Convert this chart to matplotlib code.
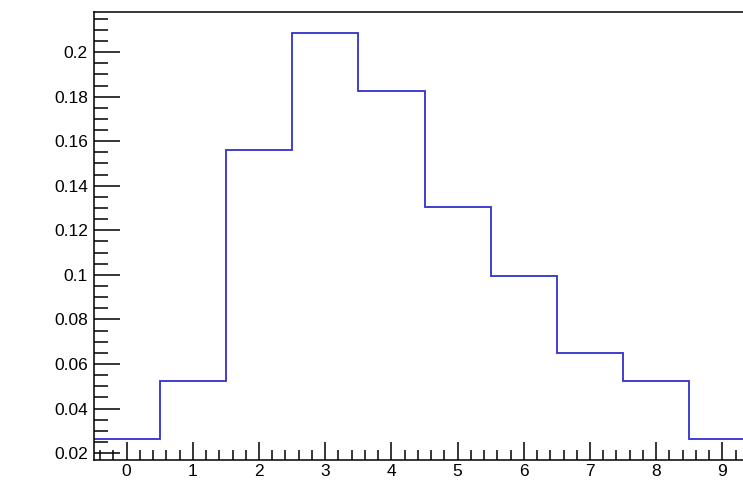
import numpy as np
import matplotlib
matplotlib.use("Agg")
import matplotlib.pyplot as plt
from matplotlib.ticker import MultipleLocator, FormatStrFormatter

# bin contents, bins centred on the integers 0..9
bin_centres = [0, 1, 2, 3, 4, 5, 6, 7, 8, 9]
bin_values = [0.0263, 0.0523, 0.1561, 0.2085, 0.1825, 0.1304, 0.0994, 0.0649, 0.0523, 0.0263]

plt.rcParams['font.family'] = ['Liberation Sans', 'DejaVu Sans']

fig = plt.figure(figsize=(7.43, 4.8), dpi=100)
# axes runs a bit past the right edge, like the cropped reference
ax = fig.add_axes([93.5 / 743, 20 / 480, 662 / 743, 448 / 480])

edges = np.arange(len(bin_centres) + 1) - 0.5
ax.stairs(bin_values, edges, color='#3030cc', linewidth=1.3, baseline=None)

ax.set_xlim(-0.5, 9.5)
ax.set_ylim(0.0169, 0.218)

ax.xaxis.set_major_locator(MultipleLocator(1))
ax.xaxis.set_minor_locator(MultipleLocator(0.2))
ax.yaxis.set_major_locator(MultipleLocator(0.02))
ax.yaxis.set_minor_locator(MultipleLocator(0.005))
ax.yaxis.set_major_formatter(FormatStrFormatter('%g'))

ax.tick_params(which='both', direction='in', top=False, right=False,
               labelsize=12.5, width=1.1, color='black')
ax.tick_params(axis='y', which='major', length=19, pad=4)
ax.tick_params(axis='y', which='minor', length=10)
ax.tick_params(axis='x', which='major', length=13, pad=3)
ax.tick_params(axis='x', which='minor', length=7)

for s in ax.spines.values():
    s.set_linewidth(1.1)

fig.savefig('out.png', dpi=100)
